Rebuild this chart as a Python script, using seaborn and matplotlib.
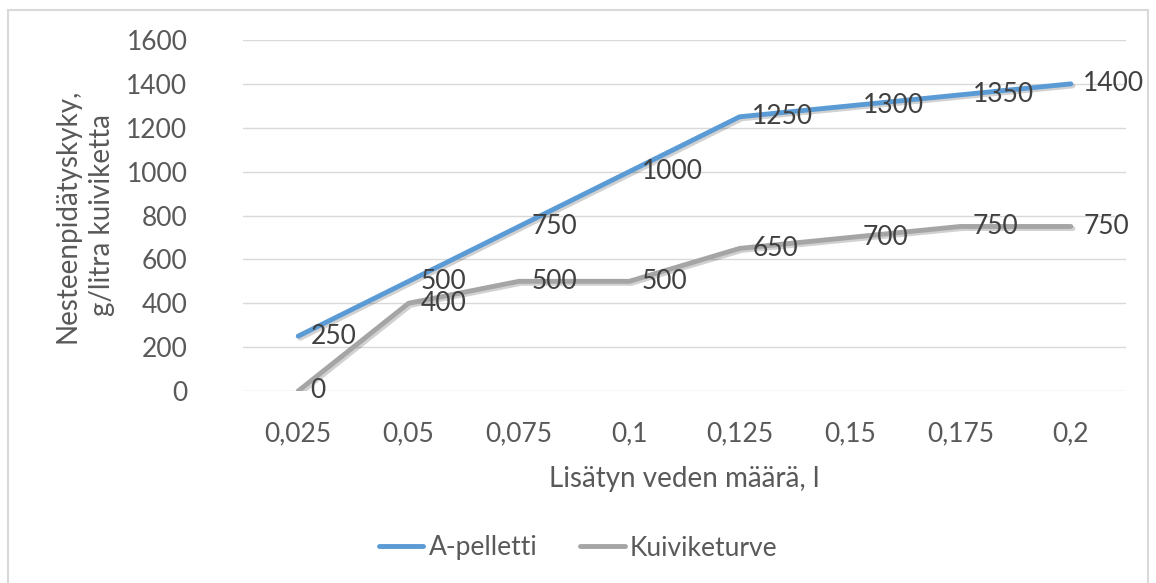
import pandas as pd
import matplotlib
matplotlib.use("Agg")
import matplotlib.pyplot as plt
import matplotlib.patheffects as pe
from matplotlib.patches import Rectangle
import seaborn as sns

# data
categories = ["0,025", "0,05", "0,075", "0,1", "0,125", "0,15", "0,175", "0,2"]
a_pelletti = [250, 500, 750, 1000, 1250, 1300, 1350, 1400]
kuiviketurve = [0, 400, 500, 500, 650, 700, 750, 750]
series_names = ["A-pelletti", "Kuiviketurve"]
colors = ["#5B9BD5", "#A5A5A5"]

df = pd.DataFrame({
    "x": categories * 2,
    "y": a_pelletti + kuiviketurve,
    "sarja": [series_names[0]] * len(categories) + [series_names[1]] * len(categories),
})

sns.set_theme(style="white")
plt.rcParams["font.family"] = ["Lato", "DejaVu Sans"]
text_col = "#595959"

fig = plt.figure(figsize=(11.56, 5.83), dpi=100)
ax = fig.add_axes([243 / 1156, 1 - 391 / 583, (1126 - 243) / 1156, (391 - 40) / 583])

# outer chart border
fig.patches.append(Rectangle((8 / 1156, -0.01), (1148 - 8) / 1156, 1 - 10 / 583 + 0.01,
                             transform=fig.transFigure, fill=False,
                             edgecolor="#D9D9D9", linewidth=1.5))

shadow = [pe.SimpleLineShadow(offset=(1.5, -1.5), alpha=0.18, shadow_color="black"), pe.Normal()]
sns.lineplot(data=df, x="x", y="y", hue="sarja", palette=colors, sort=False,
             linewidth=3.5, ax=ax, legend=False, path_effects=shadow)

for line in ax.get_lines():
    line.set_solid_capstyle("round")

# data labels on the right of each point
for vals in (a_pelletti, kuiviketurve):
    for i, v in enumerate(vals):
        ax.annotate(str(v), (i, v), xytext=(9, 0), textcoords="offset points",
                    ha="left", va="center", fontsize=19, color="#404040")

ax.set_xlim(-0.5, len(categories) - 0.5)
ax.set_ylim(0, 1600)
ax.set_yticks(range(0, 1601, 200))
ax.grid(axis="y", color="#D9D9D9", linewidth=1)
ax.grid(axis="x", visible=False)
for s in ax.spines.values():
    s.set_visible(False)
ax.tick_params(axis="both", length=0, labelsize=19, labelcolor=text_col)
ax.tick_params(axis="y", pad=40)
ax.tick_params(axis="x", pad=22)

ax.set_xlabel("Lisätyn veden määrä, l", fontsize=20, color=text_col, labelpad=14)
ax.set_ylabel("Nesteenpidätyskyky,\ng/litra kuiviketta", fontsize=20, color=text_col,
              labelpad=8, linespacing=1.4)

handles = [plt.Line2D([], [], color=c, linewidth=3.5) for c in colors]
fig.legend(handles, series_names, loc="center", bbox_to_anchor=(0.5, 1 - 548 / 583),
           ncol=2, frameon=False, fontsize=19, labelcolor=text_col,
           handlelength=1.7, handletextpad=0.2, columnspacing=1.6)

fig.savefig("out.png", dpi=100)
